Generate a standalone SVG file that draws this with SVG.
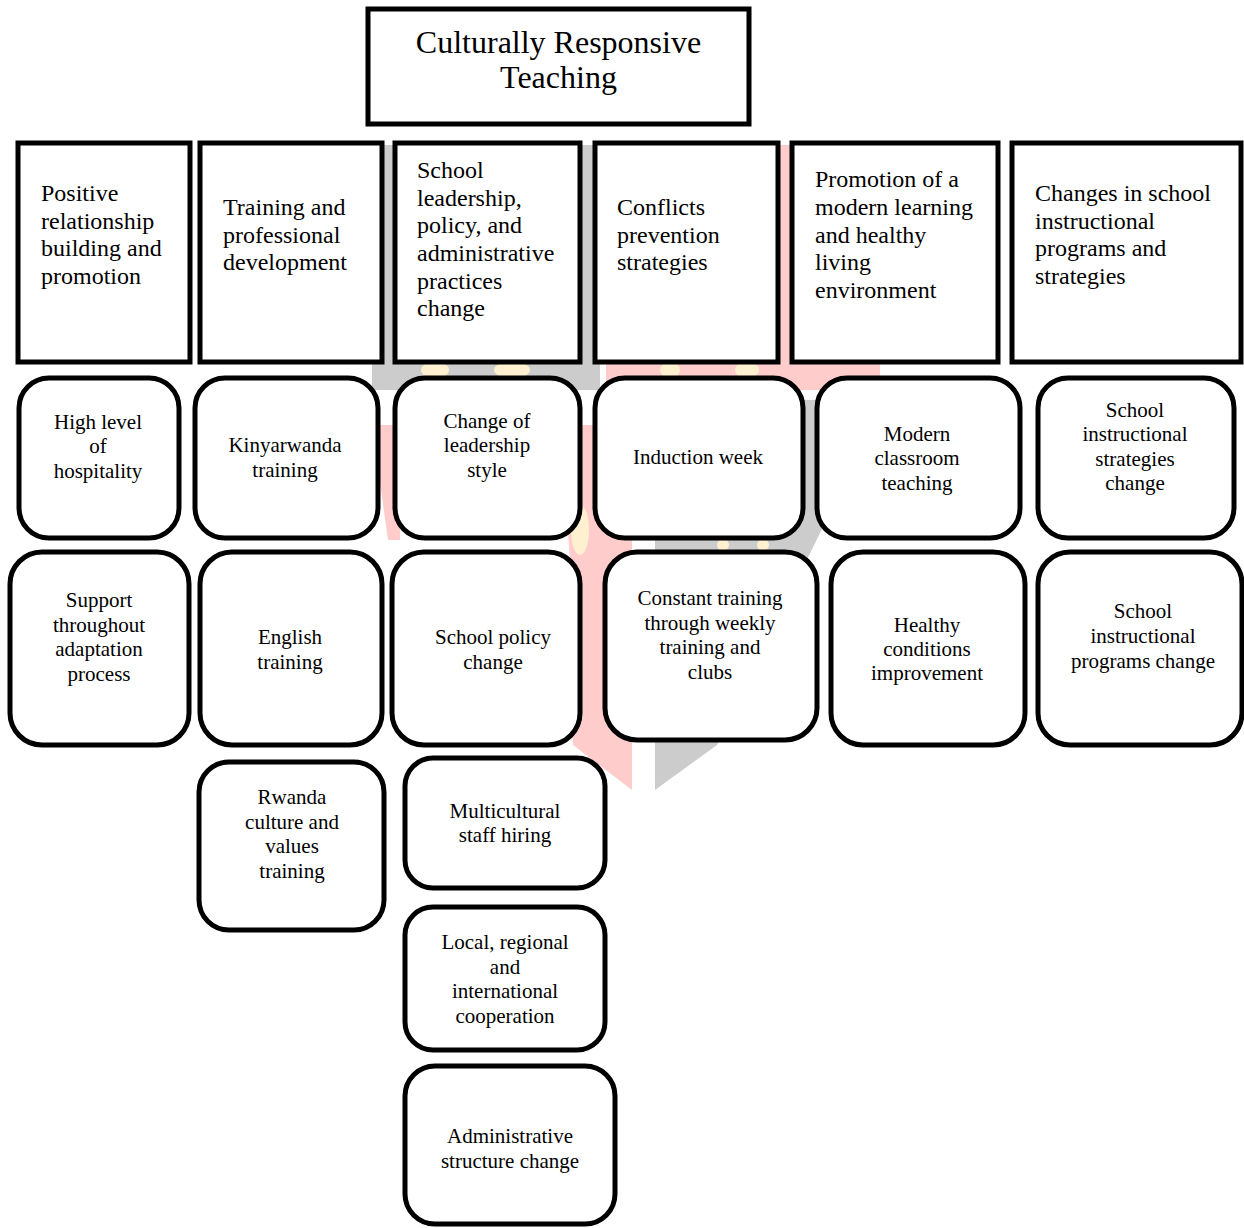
<svg xmlns="http://www.w3.org/2000/svg" width="1244" height="1228" viewBox="0 0 1244 1228">
<style>
  text { font-family: "Liberation Serif", "Times New Roman", serif; fill: #000; }
  .title { font-size: 32px; text-anchor: middle; }
  .head { font-size: 24px; }
  .sub { font-size: 21px; text-anchor: middle; }
  .box { fill: #fff; stroke: #000; stroke-width: 5; }
  .rbox { fill: #fff; stroke: #000; stroke-width: 5; }
  .wm-gray { fill: #cccccc; }
  .wm-pink { fill: #ffcccc; }
  .wm-yel { fill: #fff0d0; }
</style>
<rect x="0" y="0" width="1244" height="1228" fill="#fff"/>
<g id="watermark">
  <polygon class="wm-gray" points="372,145 600,145 600,390 372,390"/>
  <polygon class="wm-pink" points="606,145 880,145 880,390 606,390"/>
  <polygon class="wm-pink" points="372,425 400,425 400,540 388,540"/>
  <polygon class="wm-pink" points="560,425 632,425 632,790 573,745 570,560"/>
  <polygon class="wm-gray" points="655,400 880,400 870,430 717,745 655,790"/>
  <ellipse class="wm-yel" cx="435" cy="370" rx="14" ry="8"/>
  <ellipse class="wm-yel" cx="512" cy="370" rx="18" ry="8"/>
  <ellipse class="wm-yel" cx="670" cy="370" rx="10" ry="8"/>
  <ellipse class="wm-yel" cx="747" cy="370" rx="12" ry="8"/>
  <ellipse class="wm-yel" cx="723" cy="545" rx="6" ry="6"/>
  <ellipse class="wm-yel" cx="763" cy="545" rx="6" ry="6"/>
  <ellipse class="wm-yel" cx="580" cy="530" rx="9" ry="25"/>
</g>
<g id="connectors"></g>

<g id="n-title">
  <rect class="box" x="368" y="9" width="381" height="115"/>
  <text class="title" x="558.5" y="53">Culturally Responsive</text>
  <text class="title" x="558.5" y="88">Teaching</text>
</g>

<g id="n-positive">
  <rect class="box" x="18" y="143" width="172" height="219"/>
  <text class="head"><tspan x="41" y="201">Positive</tspan><tspan x="41" y="229">relationship</tspan><tspan x="41" y="256">building and</tspan><tspan x="41" y="284">promotion</tspan></text>
</g>
<g id="n-training">
  <rect class="box" x="200" y="143" width="182" height="219"/>
  <text class="head"><tspan x="223" y="215">Training and</tspan><tspan x="223" y="243">professional</tspan><tspan x="223" y="270">development</tspan></text>
</g>
<g id="n-leadership">
  <rect class="box" x="395" y="143" width="185" height="219"/>
  <text class="head"><tspan x="417" y="178">School</tspan><tspan x="417" y="206">leadership,</tspan><tspan x="417" y="233">policy, and</tspan><tspan x="417" y="261">administrative</tspan><tspan x="417" y="289">practices</tspan><tspan x="417" y="316">change</tspan></text>
</g>
<g id="n-conflicts">
  <rect class="box" x="595" y="143" width="183" height="219"/>
  <text class="head"><tspan x="617" y="215">Conflicts</tspan><tspan x="617" y="243">prevention</tspan><tspan x="617" y="270">strategies</tspan></text>
</g>
<g id="n-promotion">
  <rect class="box" x="792" y="143" width="206" height="219"/>
  <text class="head"><tspan x="815" y="187">Promotion of a</tspan><tspan x="815" y="215">modern learning</tspan><tspan x="815" y="243">and healthy</tspan><tspan x="815" y="270">living</tspan><tspan x="815" y="298">environment</tspan></text>
</g>
<g id="n-changes">
  <rect class="box" x="1012" y="143" width="229" height="219"/>
  <text class="head"><tspan x="1035" y="201">Changes in school</tspan><tspan x="1035" y="229">instructional</tspan><tspan x="1035" y="256">programs and</tspan><tspan x="1035" y="284">strategies</tspan></text>
</g>

<g id="n-hospitality">
  <rect class="rbox" x="19" y="378" width="160" height="160" rx="30"/>
  <text class="sub"><tspan x="98" y="429">High level</tspan><tspan x="98" y="453">of</tspan><tspan x="98" y="478">hospitality</tspan></text>
</g>
<g id="n-kinyarwanda">
  <rect class="rbox" x="195" y="378" width="183" height="160" rx="30"/>
  <text class="sub"><tspan x="285" y="452">Kinyarwanda</tspan><tspan x="285" y="477">training</tspan></text>
</g>
<g id="n-leaderstyle">
  <rect class="rbox" x="395" y="378" width="185" height="160" rx="30"/>
  <text class="sub"><tspan x="487" y="428">Change of</tspan><tspan x="487" y="452">leadership</tspan><tspan x="487" y="477">style</tspan></text>
</g>
<g id="n-induction">
  <rect class="rbox" x="595" y="378" width="208" height="160" rx="30"/>
  <text class="sub"><tspan x="698" y="464">Induction week</tspan></text>
</g>
<g id="n-modern">
  <rect class="rbox" x="817" y="378" width="203" height="160" rx="30"/>
  <text class="sub"><tspan x="917" y="441">Modern</tspan><tspan x="917" y="465">classroom</tspan><tspan x="917" y="490">teaching</tspan></text>
</g>
<g id="n-strategies">
  <rect class="rbox" x="1038" y="378" width="196" height="160" rx="30"/>
  <text class="sub"><tspan x="1135" y="417">School</tspan><tspan x="1135" y="441">instructional</tspan><tspan x="1135" y="466">strategies</tspan><tspan x="1135" y="490">change</tspan></text>
</g>

<g id="n-support">
  <rect class="rbox" x="10" y="552" width="179" height="193" rx="32"/>
  <text class="sub"><tspan x="99" y="607">Support</tspan><tspan x="99" y="632">throughout</tspan><tspan x="99" y="656">adaptation</tspan><tspan x="99" y="681">process</tspan></text>
</g>
<g id="n-english">
  <rect class="rbox" x="200" y="552" width="182" height="193" rx="32"/>
  <text class="sub"><tspan x="290" y="644">English</tspan><tspan x="290" y="669">training</tspan></text>
</g>
<g id="n-policy">
  <rect class="rbox" x="392" y="552" width="188" height="193" rx="32"/>
  <text class="sub"><tspan x="493" y="644">School policy</tspan><tspan x="493" y="669">change</tspan></text>
</g>
<g id="n-constant">
  <rect class="rbox" x="605" y="552" width="212" height="188" rx="32"/>
  <text class="sub"><tspan x="710" y="605">Constant training</tspan><tspan x="710" y="630">through weekly</tspan><tspan x="710" y="654">training and</tspan><tspan x="710" y="679">clubs</tspan></text>
</g>
<g id="n-healthy">
  <rect class="rbox" x="831" y="552" width="194" height="193" rx="32"/>
  <text class="sub"><tspan x="927" y="632">Healthy</tspan><tspan x="927" y="656">conditions</tspan><tspan x="927" y="680">improvement</tspan></text>
</g>
<g id="n-programs">
  <rect class="rbox" x="1038" y="552" width="204" height="193" rx="32"/>
  <text class="sub"><tspan x="1143" y="618">School</tspan><tspan x="1143" y="643">instructional</tspan><tspan x="1143" y="668">programs change</tspan></text>
</g>

<g id="n-rwanda">
  <rect class="rbox" x="199" y="762" width="185" height="168" rx="30"/>
  <text class="sub"><tspan x="292" y="804">Rwanda</tspan><tspan x="292" y="829">culture and</tspan><tspan x="292" y="853">values</tspan><tspan x="292" y="878">training</tspan></text>
</g>
<g id="n-multicultural">
  <rect class="rbox" x="405" y="758" width="200" height="130" rx="28"/>
  <text class="sub"><tspan x="505" y="818">Multicultural</tspan><tspan x="505" y="842">staff hiring</tspan></text>
</g>
<g id="n-cooperation">
  <rect class="rbox" x="405" y="907" width="200" height="143" rx="28"/>
  <text class="sub"><tspan x="505" y="949">Local, regional</tspan><tspan x="505" y="974">and</tspan><tspan x="505" y="998">international</tspan><tspan x="505" y="1023">cooperation</tspan></text>
</g>
<g id="n-admin">
  <rect class="rbox" x="405" y="1066" width="210" height="158" rx="30"/>
  <text class="sub"><tspan x="510" y="1143">Administrative</tspan><tspan x="510" y="1168">structure change</tspan></text>
</g>
</svg>
